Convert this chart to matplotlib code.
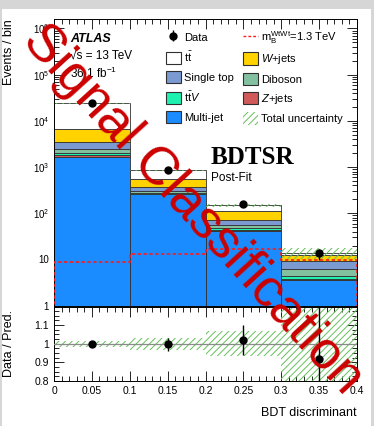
import numpy as np
import matplotlib
matplotlib.use("Agg")
import matplotlib.pyplot as plt
from matplotlib.patches import Patch, Rectangle
from matplotlib.lines import Line2D
from matplotlib.ticker import FixedLocator, MultipleLocator, FuncFormatter, LogLocator, NullFormatter

plt.rcParams["font.family"] = ["Liberation Sans", "DejaVu Sans"]
plt.rcParams["mathtext.fontset"] = "custom"
plt.rcParams["mathtext.rm"] = "Liberation Sans"
plt.rcParams["mathtext.it"] = "Liberation Sans:italic"
plt.rcParams["mathtext.bf"] = "Liberation Sans:bold"
plt.rcParams["hatch.linewidth"] = 0.7

# ── Data ──────────────────────────────────────────────────────────────────────
bin_edges = [0.0, 0.1, 0.2, 0.3, 0.4]
bin_lo = [0.0, 0.1, 0.2, 0.3]
bin_centers = [0.05, 0.15, 0.25, 0.35]

multijet = [1690, 255, 42, 3.6]
zjets = [170, 7, 2, 0.15]
ttv = [190, 18, 5, 0.65]
diboson = [360, 22, 6, 1.9]
singletop = [1080, 70, 16, 2.8]
wjets = [3310, 193, 40, 3.5]
ttbar = [17200, 285, 39, 1.4]

data = [24000, 850, 160, 13.5]
data_err = [155, 29, 12.6, 3.7]
signal = [8.8, 12.9, 17.2, 9.8]
unc_rel = [0.015, 0.032, 0.068, 0.25]

ratio = [1.0, 0.997, 1.02, 0.918]
ratio_err = [0.008, 0.034, 0.08, 0.3]

# ── Style ─────────────────────────────────────────────────────────────────────
samples = [
    ("Multi-jet", multijet, "#1a8cff"),
    ("$Z$+jets", zjets, "#d05a5a"),
    (r"$\mathrm{t\bar{t}}V$", ttv, "#1ff2b0"),
    ("Diboson", diboson, "#82c0a0"),
    ("Single top", singletop, "#7b9ad2"),
    ("$W$+jets", wjets, "#ffd200"),
    (r"$\mathrm{t\bar{t}}$", ttbar, "white"),
]
C_HATCH = "#66c05a"
C_SIG = "#ff1a1a"

W, H = 374, 426
fig = plt.figure(figsize=(W / 100, H / 100), dpi=100, facecolor="#d6d6d6")
fig.patches.append(Rectangle((2 / W, 0), 369 / W, 1 - 9 / H,
                             transform=fig.transFigure, facecolor="white",
                             edgecolor="none", zorder=-10))


def fx(px):
    return px / W


def fy(py):
    return 1 - py / H


ax = fig.add_axes([fx(54), fy(305.7), fx(357) - fx(54), fy(19) - fy(305.7)])
rax = fig.add_axes([fx(54), fy(381), fx(357) - fx(54), fy(306.5) - fy(381)])

# ── Main panel: stacked backgrounds ──────────────────────────────────────────
bottom = np.full(4, 0.05)
handles = {}
for name, vals, col in samples:
    vals = np.asarray(vals, dtype=float)
    ax.bar(bin_lo, vals, width=0.1, bottom=bottom, align="edge",
           color=col, edgecolor="#303030", linewidth=0.6, zorder=2)
    handles[name] = Patch(facecolor=col, edgecolor="#303030", linewidth=0.8)
    bottom = bottom + vals
total = bottom - 0.05

unc = np.asarray(unc_rel)
ax.bar(bin_lo, 2 * unc * total, width=0.1, bottom=total * (1 - unc),
       align="edge", fill=False, hatch="/////", edgecolor=C_HATCH,
       linewidth=0, zorder=3)

ax.stairs(signal, bin_edges, color=C_SIG, linestyle=(0, (2, 1.5)),
          linewidth=1.2, zorder=4)

eb = ax.errorbar(bin_centers, data, yerr=data_err, fmt="o", color="black",
                 markersize=5, elinewidth=1.0, capsize=0, zorder=5)

ax.set_xlim(0, 0.4)
ax.set_yscale("log")
ax.set_ylim(1, 1.6e6)


def log_fmt(v, pos):
    e = int(round(np.log10(v)))
    if e == 0:
        return "1"
    if e == 1:
        return "10"
    return r"$10^{%d}$" % e


ax.yaxis.set_major_locator(LogLocator(base=10, numticks=10))
ax.yaxis.set_minor_locator(LogLocator(base=10, subs=np.arange(2, 10), numticks=20))
ax.yaxis.set_major_formatter(FuncFormatter(log_fmt))
ax.yaxis.set_minor_formatter(NullFormatter())
ax.xaxis.set_major_locator(MultipleLocator(0.05))
ax.xaxis.set_minor_locator(MultipleLocator(0.01))
ax.set_xticklabels([])
ax.tick_params(which="both", direction="in", top=True, right=True, labelsize=7)
ax.tick_params(which="major", length=7, width=0.6)
ax.tick_params(which="minor", length=3.5, width=0.6)
ax.set_ylabel("Events / bin", fontsize=9, loc="top")
ax.yaxis.set_label_coords(-0.128, 1.0)

# Legend
sig_h = Line2D([], [], color=C_SIG, linestyle=(0, (2, 1.5)), linewidth=1.0)
unc_h = Patch(facecolor="none", edgecolor=C_HATCH, hatch="/////", linewidth=0)
leg_handles = [eb, handles[r"$\mathrm{t\bar{t}}$"], handles["Single top"],
               handles[r"$\mathrm{t\bar{t}}V$"], handles["Multi-jet"],
               sig_h, handles["$W$+jets"], handles["Diboson"],
               handles["$Z$+jets"], unc_h]
leg_labels = ["Data", r"$\mathrm{t\bar{t}}$", "Single top", r"$\mathrm{t\bar{t}}V$",
              "Multi-jet", r"$\mathrm{m_{B}^{WtWt}}$=1.3 TeV", "$W$+jets",
              "Diboson", "$Z$+jets", "Total uncertainty"]
ax.legend(leg_handles, leg_labels, ncol=2, loc="upper left",
          bbox_to_anchor=(fx(165.5), fy(29.0)), bbox_transform=fig.transFigure,
          frameon=False, fontsize=8, borderpad=0, borderaxespad=0,
          handlelength=1.35, handleheight=1.35, handletextpad=0.3,
          labelspacing=0.58, columnspacing=0.8)

# Labels
fig.text(fx(70), fy(39), "ATLAS", fontsize=9, fontweight="bold",
         fontstyle="italic", va="center")
fig.text(fx(70), fy(55.5), "\u221as = 13 TeV", fontsize=8.5, va="center")
fig.text(fx(70), fy(73), r"36.1 fb$^{\mathrm{-1}}$", fontsize=8.5, va="center")
fig.text(fx(211), fy(157), "BDTSR", fontsize=18, fontweight="bold",
         family="Liberation Serif", va="center")
fig.text(fx(211), fy(177.5), "Post-Fit", fontsize=8.5, va="center")

# ── Ratio panel ──────────────────────────────────────────────────────────────
rax.bar(bin_lo, 2 * unc, width=0.1, bottom=1 - unc, align="edge",
        fill=False, hatch="/////", edgecolor=C_HATCH, linewidth=0, zorder=2)
rax.axhline(1, color="#8a8a8a", linewidth=0.9, zorder=3)
rax.errorbar(bin_centers, ratio, yerr=ratio_err, fmt="o", color="black",
             markersize=5, elinewidth=1.0, capsize=0, zorder=5)
rax.set_xlim(0, 0.4)
rax.set_ylim(0.8, 1.2)
rax.yaxis.set_major_locator(FixedLocator([0.8, 0.9, 1.0, 1.1]))
rax.yaxis.set_major_formatter(FuncFormatter(lambda v, p: "1" if abs(v - 1) < 1e-9 else "%.1f" % v))
rax.yaxis.set_minor_locator(MultipleLocator(0.025))
rax.xaxis.set_major_locator(MultipleLocator(0.05))
rax.xaxis.set_minor_locator(MultipleLocator(0.01))
rax.xaxis.set_major_formatter(FuncFormatter(lambda v, p: "0" if v == 0 else ("%g" % round(v, 2))))
rax.tick_params(which="both", direction="in", top=True, right=True, labelsize=7.5)
rax.tick_params(which="major", length=7, width=0.6)
rax.tick_params(which="minor", length=3.5, width=0.6)
rax.set_ylabel("Data / Pred.", fontsize=9)
rax.yaxis.set_label_coords(-0.128, 0.5)
rax.set_xlabel("BDT discriminant", fontsize=9, loc="right", labelpad=8)
for a in (ax, rax):
    for s in a.spines.values():
        s.set_linewidth(0.7)

# ── Watermark ────────────────────────────────────────────────────────────────
fig.text(fx(193), fy(210), "Signal Classification", fontsize=38.5, color="#cc0000",
         rotation=-47.7, rotation_mode="anchor", ha="center", va="center",
         zorder=20)

fig.savefig("out.png", dpi=100, facecolor=fig.get_facecolor())
